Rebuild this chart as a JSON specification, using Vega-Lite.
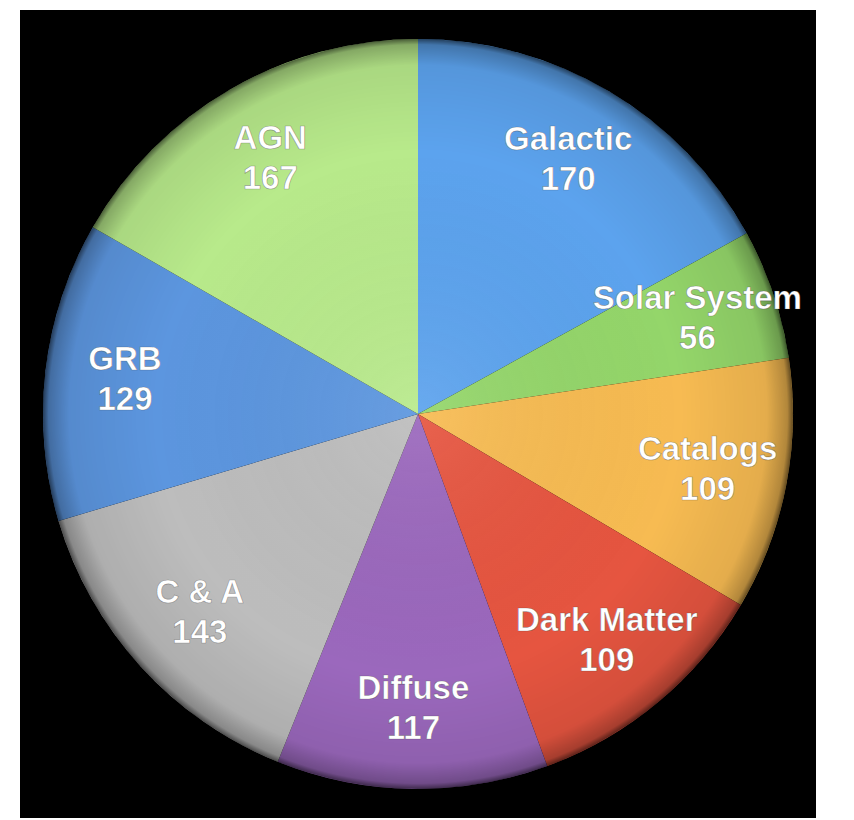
{
  "$schema": "https://vega.github.io/schema/vega-lite/v6.json",
  "width": 796,
  "height": 808,
  "padding": {"left": 20, "top": 10, "right": 38, "bottom": 2},
  "autosize": {"type": "none"},
  "background": "#ffffff",
  "view": {"fill": "#000000", "stroke": null},
  "config": {"view": {"fill": "#000000", "stroke": null}},
  "data": {
    "values": [
      {"name": "Galactic", "value": 170, "order": 1},
      {"name": "Solar System", "value": 56, "order": 2},
      {"name": "Catalogs", "value": 109, "order": 3},
      {"name": "Dark Matter", "value": 109, "order": 4},
      {"name": "Diffuse", "value": 117, "order": 5},
      {"name": "C & A", "value": 143, "order": 6},
      {"name": "GRB", "value": 129, "order": 7},
      {"name": "AGN", "value": 167, "order": 8}
    ]
  },
  "layer": [
    {
      "mark": {"type": "arc", "outerRadius": 375, "stroke": null},
      "encoding": {
        "theta": {"field": "value", "type": "quantitative", "stack": true},
        "order": {"field": "order", "type": "quantitative"},
        "color": {
          "field": "name",
          "type": "nominal",
          "legend": null,
          "scale": {
            "domain": ["Galactic", "Solar System", "Catalogs", "Dark Matter", "Diffuse", "C & A", "GRB", "AGN"],
            "range": ["#5ca3ee", "#94d66a", "#f7bb52", "#e65540", "#9b68bd", "#bdbdbd", "#5c96df", "#b8ea8b"]
          }
        }
      }
    },
    {
      "transform": [{"aggregate": [{"op": "sum", "field": "value", "as": "total"}]}],
      "mark": {
        "type": "arc",
        "outerRadius": 375,
        "stroke": null,
        "fill": {
          "gradient": "radial",
          "x1": 0.5, "y1": 0.5, "r1": 0,
          "x2": 0.5, "y2": 0.5, "r2": 0.5,
          "stops": [
            {"offset": 0, "color": "rgba(255,255,255,0.08)"},
            {"offset": 0.7, "color": "rgba(0,0,0,0)"},
            {"offset": 0.93, "color": "rgba(0,0,0,0.08)"},
            {"offset": 0.985, "color": "rgba(0,0,0,0.28)"},
            {"offset": 1, "color": "rgba(0,0,0,0.6)"}
          ]
        }
      },
      "encoding": {
        "theta": {"field": "total", "type": "quantitative", "stack": true}
      }
    },
    {
      "mark": {"type": "text", "radius": 295, "font": "Liberation Sans", "fontWeight": "bold", "fontSize": 33, "dy": -20, "color": "#ffffff", "stroke": "#333333", "strokeWidth": 0.7, "strokeOpacity": 0.45, "baseline": "middle", "align": "center"},
      "encoding": {
        "theta": {"field": "value", "type": "quantitative", "stack": true},
        "order": {"field": "order", "type": "quantitative"},
        "text": {"field": "name", "type": "nominal"}
      }
    },
    {
      "mark": {"type": "text", "radius": 295, "font": "Liberation Sans", "fontWeight": "bold", "fontSize": 33, "dy": 20, "color": "#ffffff", "stroke": "#333333", "strokeWidth": 0.7, "strokeOpacity": 0.45, "baseline": "middle", "align": "center"},
      "encoding": {
        "theta": {"field": "value", "type": "quantitative", "stack": true},
        "order": {"field": "order", "type": "quantitative"},
        "text": {"field": "value", "type": "quantitative"}
      }
    }
  ]
}
